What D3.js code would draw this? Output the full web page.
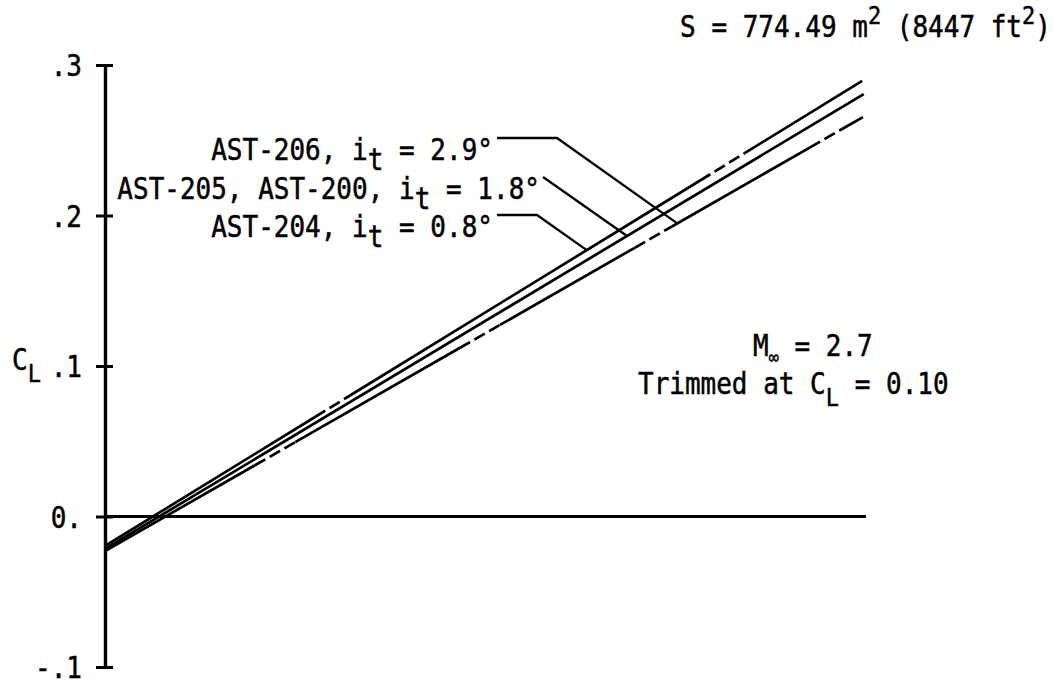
<!DOCTYPE html>
<html>
<head>
<meta charset="utf-8">
<script src="https://cdn.jsdelivr.net/npm/d3@7/dist/d3.min.js"></script>
<style>
  html, body { margin: 0; padding: 0; background: #fff; }
  svg { display: block; }
  text { font-family: "DejaVu Sans Mono", "Liberation Mono", monospace; fill: #000; stroke: #000; stroke-width: 0.45px; white-space: pre; }
</style>
</head>
<body>
<svg id="chart" width="1053" height="688"></svg>
<script>
// ---- data ----
const seriesNames = ["AST-204", "AST-205, AST-200", "AST-206"];
const tailIncidence = ["0.8", "1.8", "2.9"];
const alphaStart = [0, 0, 0];
const alphaEnd = [9.95, 9.97, 9.96];
const clStart = [-0.0196, -0.0216, -0.0230];
const clEnd = [0.2894, 0.2807, 0.2654];
// stretches of each curve drawn broken (dashed) in the original plot
const dashedRanges = [
  [[2.76, 3.22], [7.82, 8.41]],
  [],
  [[1.97, 2.50], [4.66, 5.19], [6.96, 7.45], [9.26, 9.68]]
];
const leaderAlpha = [6.33, 6.86, 7.52];
const zeroLineAlpha = [0, 10];
const yTickValues = [-0.1, 0, 0.1, 0.2, 0.3];
const yTickLabels = ["-.1", "0.", ".1", ".2", ".3"];

// ---- layout ----
const svg = d3.select("#chart");
const x = d3.scaleLinear().domain([0, 10]).range([105, 866]);
const y = d3.scaleLinear().domain([-0.1, 0.3]).range([667, 65]);
const FS = 26;
const STRETCH = 1.15;

// rich text: parts drawn one after another; anchor "start" or "end"
function richText(xPos, baseline, parts, anchor) {
  const g = svg.append("g");
  let cx = 0;
  parts.forEach(p => {
    const t = g.append("text").attr("x", cx).attr("y", p.dy || 0)
      .attr("xml:space", "preserve")
      .attr("font-size", p.size || FS).text(p.t);
    cx += t.node().getComputedTextLength();
  });
  const x0 = anchor === "end" ? xPos - cx : xPos;
  g.attr("transform", `translate(${x0},${baseline}) scale(1,${STRETCH})`);
  return g;
}

// y axis
const yAxis = d3.axisLeft(y)
  .tickValues(yTickValues)
  .tickFormat((d, i) => yTickLabels[i])
  .tickSizeOuter(0)
  .tickSizeInner(9)
  .tickPadding(14);
const gy = svg.append("g").attr("transform", `translate(${x(0)},0)`).call(yAxis);
gy.select(".domain").attr("stroke", "#000").attr("stroke-width", 3.4);
gy.selectAll(".tick line").attr("x1", -9).attr("x2", 8).attr("stroke", "#000").attr("stroke-width", 3);
gy.selectAll(".tick text").attr("font-size", FS).attr("font-family", "DejaVu Sans Mono")
  .attr("fill", "#000").attr("dy", "0.36em").attr("transform", `scale(1,${STRETCH})`);

// zero line
svg.append("line")
  .attr("x1", x(zeroLineAlpha[0])).attr("x2", x(zeroLineAlpha[1]))
  .attr("y1", y(0)).attr("y2", y(0))
  .attr("stroke", "#000").attr("stroke-width", 3);

// y label C_L
richText(12, 370, [{t: "C"}, {t: "L", size: 22, dy: 10}], "start");

// curves
const clAt = (i, a) => clStart[i] + (clEnd[i] - clStart[i]) * (a - alphaStart[i]) / (alphaEnd[i] - alphaStart[i]);
const line = d3.line().x(d => x(d[0])).y(d => y(d[1]));
seriesNames.forEach((name, i) => {
  const pieces = [];
  let cur = alphaStart[i];
  dashedRanges[i].forEach(r => {
    pieces.push({a: cur, b: r[0], dashed: false});
    pieces.push({a: r[0], b: r[1], dashed: true});
    cur = r[1];
  });
  pieces.push({a: cur, b: alphaEnd[i], dashed: false});
  pieces.forEach(p => {
    svg.append("path")
      .attr("d", line([[p.a, clAt(i, p.a)], [p.b, clAt(i, p.b)]]))
      .attr("fill", "none").attr("stroke", "#000").attr("stroke-width", 2.7)
      .attr("stroke-dasharray", p.dashed ? "12,5" : null);
  });
});

// labels with leaders
const labelEndX = [493, 540, 493];
const labelBaseline = [237, 199, 160];
const leaderBendX = [537, 543, 557];
seriesNames.forEach((name, i) => {
  richText(labelEndX[i], labelBaseline[i], [
    {t: name + ", i"}, {t: "t", dy: 9}, {t: " = " + tailIncidence[i] + "°"}
  ], "end");
  const ly = labelBaseline[i] - 22;
  const pts = [];
  if (i !== 1) pts.push([labelEndX[i] + 4, ly]);
  pts.push([leaderBendX[i], ly]);
  pts.push([x(leaderAlpha[i]), y(clAt(i, leaderAlpha[i]))]);
  svg.append("path").attr("d", d3.line()(pts))
    .attr("fill", "none").attr("stroke", "#000").attr("stroke-width", 2.3);
});

// annotations
richText(1051, 37, [
  {t: "S = 774.49 m"}, {t: "2", size: 22, dy: -11}, {t: " (8447 ft"}, {t: "2", size: 22, dy: -11}, {t: ")"}
], "end");
richText(753, 356, [{t: "M"}, {t: "∞", size: 17, dy: 7}, {t: " = 2.7"}], "start");
richText(638, 394, [{t: "Trimmed at C"}, {t: "L", size: 22, dy: 10}, {t: " = 0.10"}], "start");
</script>
</body>
</html>
